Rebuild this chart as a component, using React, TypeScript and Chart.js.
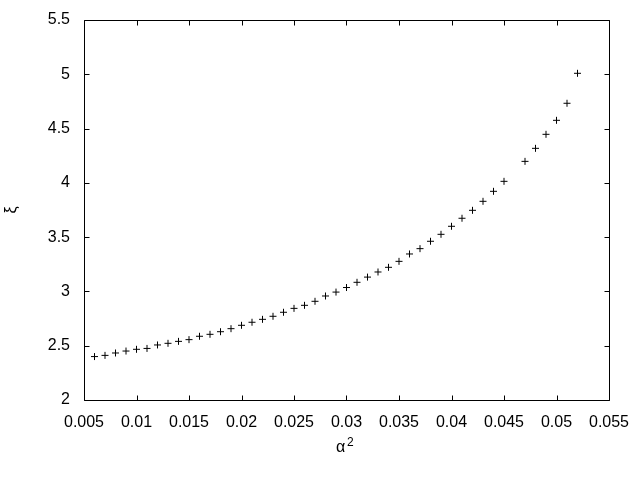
import React, { useEffect, useRef } from "react";
import { Chart, registerables } from "chart.js";

Chart.register(...registerables);

const xValues = [
  0.006, 0.007, 0.008, 0.009, 0.01, 0.011, 0.012, 0.013, 0.014, 0.015,
  0.016, 0.017, 0.018, 0.019, 0.02, 0.021, 0.022, 0.023, 0.024, 0.025,
  0.026, 0.027, 0.028, 0.029, 0.03, 0.031, 0.032, 0.033, 0.034, 0.035,
  0.036, 0.037, 0.038, 0.039, 0.04, 0.041, 0.042, 0.043, 0.044, 0.045,
  0.047, 0.048, 0.049, 0.05, 0.051, 0.052,
];
const xiValues = [
  2.40, 2.411, 2.433, 2.451, 2.467, 2.475, 2.507, 2.522, 2.540, 2.556,
  2.587, 2.605, 2.629, 2.657, 2.688, 2.716, 2.743, 2.771, 2.808, 2.844,
  2.872, 2.909, 2.958, 2.994, 3.036, 3.084, 3.132, 3.179, 3.222, 3.277,
  3.345, 3.394, 3.462, 3.526, 3.600, 3.674, 3.747, 3.830, 3.922, 4.014,
  4.198, 4.318, 4.447, 4.576, 4.733, 5.009,
];
const xTicks = [0.005, 0.01, 0.015, 0.02, 0.025, 0.03, 0.035, 0.04, 0.045, 0.05, 0.055];
const xTickLabels = ["0.005", "0.01", "0.015", "0.02", "0.025", "0.03", "0.035", "0.04", "0.045", "0.05", "0.055"];
const yTicks = [2, 2.5, 3, 3.5, 4, 4.5, 5, 5.5];
const yTickLabels = ["2", "2.5", "3", "3.5", "4", "4.5", "5", "5.5"];
const xTitleBase = "α";
const xTitleSup = "2";
const yTitle = "ξ";

const FONT = "'Liberation Sans', Arial, sans-serif";

const framePlugin = {
  id: "gnuplotFrame",
  afterDatasetsDraw(chart: any) {
    const { ctx, chartArea } = chart;
    const xs = chart.scales.x;
    const ys = chart.scales.y;
    const L = Math.round(chartArea.left) + 0.5;
    const R = Math.round(chartArea.right) + 0.5;
    const T = Math.round(chartArea.top) + 0.5;
    const B = Math.round(chartArea.bottom) + 0.5;
    const tl = 5;
    ctx.save();
    ctx.strokeStyle = "#000";
    ctx.lineWidth = 1;
    ctx.beginPath();
    ctx.rect(L, T, R - L, B - T);
    xTicks.forEach((v) => {
      const px = Math.round(xs.getPixelForValue(v)) + 0.5;
      ctx.moveTo(px, B);
      ctx.lineTo(px, B - tl);
      ctx.moveTo(px, T);
      ctx.lineTo(px, T + tl);
    });
    yTicks.forEach((v) => {
      const py = Math.round(ys.getPixelForValue(v)) + 0.5;
      ctx.moveTo(L, py);
      ctx.lineTo(L + tl, py);
      ctx.moveTo(R, py);
      ctx.lineTo(R - tl, py);
    });
    ctx.stroke();

    // x-axis title: alpha with superscript 2
    const cx = (chartArea.left + chartArea.right) / 2;
    ctx.fillStyle = "#000";
    ctx.textBaseline = "alphabetic";
    ctx.textAlign = "left";
    ctx.font = `16px ${FONT}`;
    ctx.fillText(xTitleBase, cx - 10.5, chartArea.bottom + 52);
    ctx.font = `12px ${FONT}`;
    ctx.fillText(xTitleSup, cx + 0.5, chartArea.bottom + 46);
    ctx.restore();
  },
};

export default function App() {
  const ref = useRef<HTMLCanvasElement>(null);
  useEffect(() => {
    if (!ref.current) return;
    const chart = new Chart(ref.current, {
      type: "scatter",
      data: {
        datasets: [
          {
            data: xValues.map((x, i) => ({ x, y: xiValues[i] })),
            pointStyle: "cross",
            pointRadius: 3.5,
            pointBorderWidth: 1,
            borderColor: "#000",
            backgroundColor: "#000",
          },
        ],
      },
      plugins: [framePlugin],
      options: {
        animation: false,
        responsive: false,
        events: [],
        layout: { padding: { left: 0, right: 31, top: 20, bottom: 0 } },
        plugins: { legend: { display: false }, tooltip: { enabled: false } },
        scales: {
          x: {
            type: "linear",
            min: 0.005,
            max: 0.055,
            afterBuildTicks: (s: any) => {
              s.ticks = xTicks.map((v) => ({ value: v }));
            },
            afterFit: (s: any) => {
              s.height = 80;
              s.paddingLeft = 0;
              s.paddingRight = 0;
            },
            grid: { display: false, drawTicks: false },
            border: { display: false },
            ticks: {
              autoSkip: false,
              maxRotation: 0,
              padding: 13,
              color: "#000",
              font: { family: FONT, size: 16 },
              callback: (v: any) => {
                const i = xTicks.findIndex((t) => Math.abs(t - v) < 1e-9);
                return i >= 0 ? xTickLabels[i] : "";
              },
            },
            title: { display: false },
          },
          y: {
            type: "linear",
            min: 2,
            max: 5.5,
            afterBuildTicks: (s: any) => {
              s.ticks = yTicks.map((v) => ({ value: v }));
            },
            afterFit: (s: any) => {
              s.width = 84;
              s.paddingTop = 0;
              s.paddingBottom = 0;
            },
            grid: { display: false, drawTicks: false },
            border: { display: false },
            ticks: {
              autoSkip: false,
              padding: 14,
              color: "#000",
              font: { family: FONT, size: 16 },
              callback: (v: any) => {
                const i = yTicks.findIndex((t) => Math.abs(t - v) < 1e-9);
                return i >= 0 ? yTickLabels[i] : "";
              },
            },
            title: {
              display: true,
              text: yTitle,
              color: "#000",
              font: { family: FONT, size: 16 },
              padding: { top: 2, bottom: 0 },
            },
          },
        },
      },
    });
    return () => chart.destroy();
  }, []);
  return (
    <div style={{ position: "absolute", left: 0, top: 0, width: 640, height: 480, background: "#fff" }}>
      <canvas ref={ref} width={640} height={480} style={{ display: "block" }} />
    </div>
  );
}
